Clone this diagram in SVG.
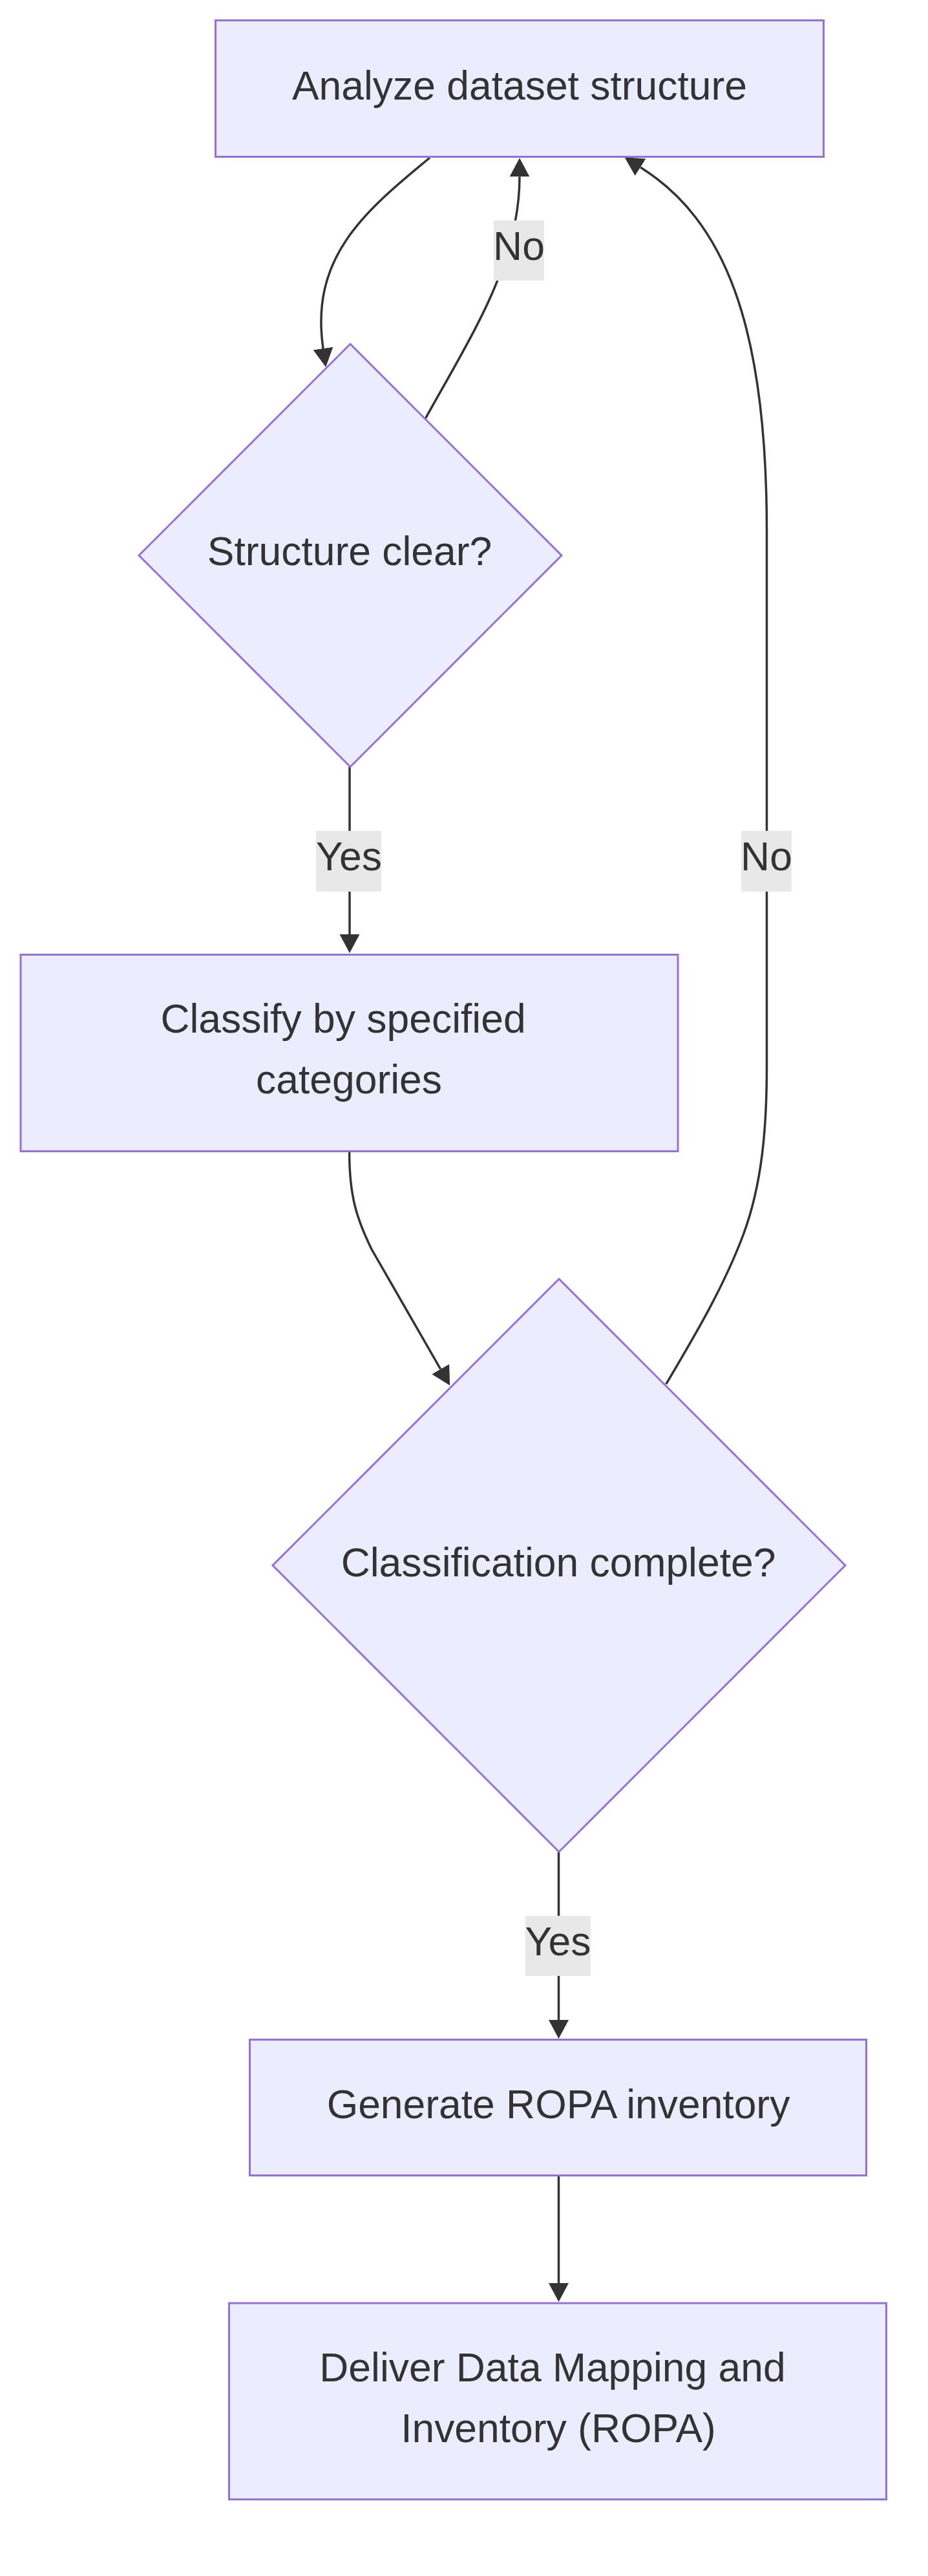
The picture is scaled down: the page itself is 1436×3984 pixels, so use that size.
<svg xmlns="http://www.w3.org/2000/svg" width="1436" height="3984" viewBox="0 0 1436 3984">
<style>
.node{fill:#ECECFF;stroke:#9370DB;stroke-width:3}
.t{font-family:"Liberation Sans",Arial,sans-serif;font-size:62.4px;fill:#333333;text-anchor:middle}
.edge{fill:none;stroke:#333333;stroke-width:3.5;marker-end:url(#arrow)}
.lbl{fill:#e8e8e8}
</style>
<defs>
<marker id="arrow" markerUnits="userSpaceOnUse" markerWidth="30" markerHeight="32" refX="0" refY="15.5" orient="auto" viewBox="0 0 30 31">
<path d="M0,0 L29,15.5 L0,31 z" fill="#333333"/>
</marker>
</defs>
<rect width="1436" height="3984" fill="#ffffff"/>
<g id="connectors">
<path class="edge" d="M665,244 C560,330 480,400 500,539"/>
<path class="edge" d="M658.5,647 C700,572 750,490 775,420 C795,365 804,320 804,273.3"/>
<path class="edge" d="M541,1186 L541,1445"/>
<path class="edge" d="M540.6,1782 C540.6,1850 552,1885 575,1932 L681.7,2117.5"/>
<path class="edge" d="M1030.7,2140.7 C1075,2066 1120,1990 1150,1910 C1180,1830 1186.5,1740 1186.5,1650 L1186.5,820 C1186.5,500 1120,340 991,258.7"/>
<path class="edge" d="M864.5,2864 L864.5,3124"/>
<path class="edge" d="M864.5,3366 L864.5,3531"/>
<g id="label-no1"><rect class="lbl" x="764" y="341" width="78" height="93"/><text class="t" x="803" y="402">No</text></g>
<g id="label-yes1"><rect class="lbl" x="489" y="1285" width="101" height="94"/><text class="t" x="540" y="1346">Yes</text></g>
<g id="label-no2"><rect class="lbl" x="1147" y="1285" width="78" height="94"/><text class="t" x="1186" y="1346">No</text></g>
<g id="label-yes2"><rect class="lbl" x="813" y="2963" width="101" height="93"/><text class="t" x="863.5" y="3024">Yes</text></g>
</g>
<g id="analyze">
<rect class="node" x="333.5" y="31.5" width="941" height="211"/>
<text class="t" x="804" y="154">Analyze dataset structure</text>
</g>
<g id="structure-clear">
<polygon class="node" points="542,532 869,859 542,1186 215,859"/>
<text class="t" x="541" y="874">Structure clear?</text>
</g>
<g id="classify">
<rect class="node" x="32" y="1476.5" width="1017" height="304"/>
<text class="t" x="531" y="1597">Classify by specified</text>
<text class="t" x="540" y="1691">categories</text>
</g>
<g id="classification-complete">
<polygon class="node" points="865,1978 1308,2421 865,2864 422,2421"/>
<text class="t" x="864" y="2438">Classification complete?</text>
</g>
<g id="generate">
<rect class="node" x="386.5" y="3154.5" width="954" height="210"/>
<text class="t" x="864" y="3276">Generate ROPA inventory</text>
</g>
<g id="deliver">
<rect class="node" x="354.5" y="3562" width="1017" height="303.5"/>
<text class="t" x="855" y="3683">Deliver Data Mapping and</text>
<text class="t" x="864" y="3777">Inventory (ROPA)</text>
</g>
</svg>
